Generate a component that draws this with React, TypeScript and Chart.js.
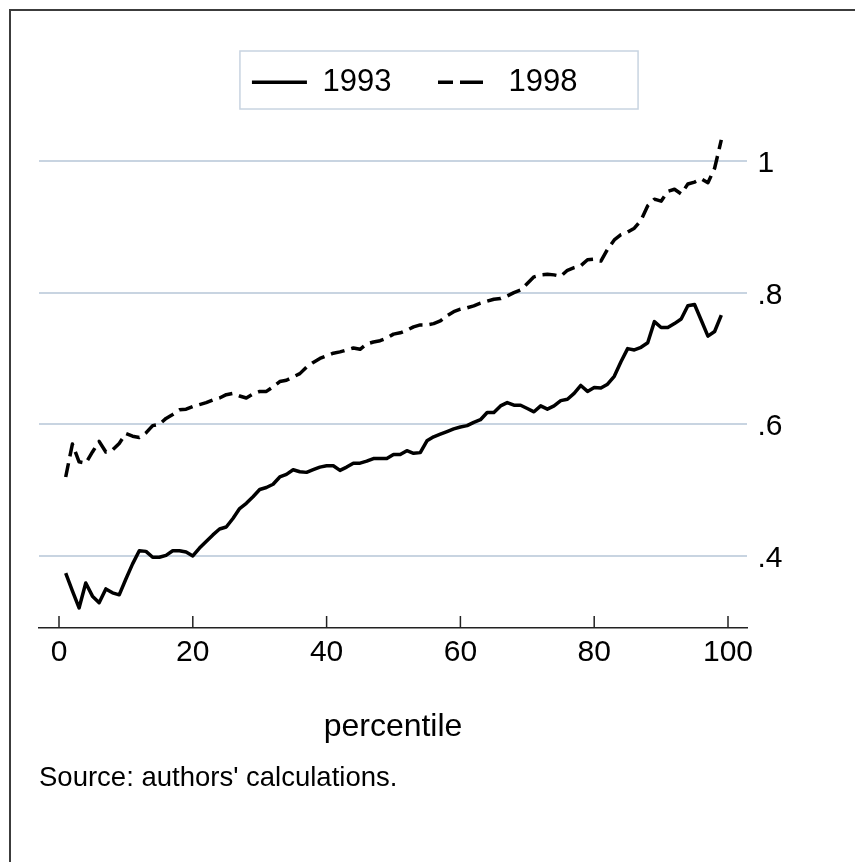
import React, { useEffect, useRef } from "react";
import { Chart, registerables } from "chart.js";

Chart.register(...registerables);

// Percentile of the distribution (x) and the share value at each percentile.
const percentiles = [
  1, 2, 3, 4, 5, 6, 7, 8, 9, 10, 11, 12, 13, 14, 15, 16, 17, 18, 19, 20,
  21, 22, 23, 24, 25, 26, 27, 28, 29, 30, 31, 32, 33, 34, 35, 36, 37, 38, 39, 40,
  41, 42, 43, 44, 45, 46, 47, 48, 49, 50, 51, 52, 53, 54, 55, 56, 57, 58, 59, 60,
  61, 62, 63, 64, 65, 66, 67, 68, 69, 70, 71, 72, 73, 74, 75, 76, 77, 78, 79, 80,
  81, 82, 83, 84, 85, 86, 87, 88, 89, 90, 91, 92, 93, 94, 95, 96, 97, 98, 99,
];

const values1993 = [
  0.374, 0.347, 0.321, 0.359, 0.339, 0.329, 0.350, 0.344, 0.341, 0.365,
  0.388, 0.408, 0.407, 0.398, 0.398, 0.401, 0.408, 0.408, 0.406, 0.400,
  0.412, 0.422, 0.432, 0.441, 0.444, 0.457, 0.472, 0.480, 0.490, 0.501,
  0.504, 0.509, 0.520, 0.524, 0.531, 0.528, 0.527, 0.531, 0.535, 0.537,
  0.537, 0.530, 0.535, 0.541, 0.541, 0.544, 0.548, 0.548, 0.548, 0.554,
  0.554, 0.560, 0.556, 0.557, 0.575, 0.581, 0.585, 0.589, 0.593, 0.596,
  0.598, 0.603, 0.607, 0.618, 0.618, 0.628, 0.633, 0.629, 0.629, 0.624,
  0.619, 0.628, 0.623, 0.628, 0.636, 0.638, 0.647, 0.659, 0.650, 0.656,
  0.655, 0.661, 0.673, 0.695, 0.715, 0.713, 0.717, 0.724, 0.756, 0.747,
  0.747, 0.753, 0.760, 0.780, 0.782, 0.758, 0.734, 0.741, 0.766,
];

const values1998 = [
  0.520, 0.570, 0.543, 0.541, 0.558, 0.574, 0.558, 0.561, 0.571, 0.586,
  0.582, 0.580, 0.587, 0.598, 0.600, 0.609, 0.615, 0.622, 0.623, 0.627,
  0.630, 0.633, 0.637, 0.640, 0.645, 0.647, 0.643, 0.640, 0.646, 0.650,
  0.650, 0.657, 0.665, 0.667, 0.672, 0.677, 0.687, 0.694, 0.700, 0.704,
  0.708, 0.710, 0.713, 0.716, 0.714, 0.722, 0.725, 0.727, 0.731, 0.737,
  0.739, 0.743, 0.748, 0.751, 0.751, 0.753, 0.757, 0.765, 0.771, 0.775,
  0.777, 0.780, 0.784, 0.787, 0.790, 0.791, 0.795, 0.800, 0.804, 0.814,
  0.824, 0.827, 0.828, 0.827, 0.825, 0.834, 0.838, 0.841, 0.850, 0.851,
  0.848, 0.866, 0.880, 0.888, 0.892, 0.898, 0.910, 0.932, 0.942, 0.939,
  0.954, 0.957, 0.950, 0.965, 0.968, 0.973, 0.967, 0.989, 1.032,
];

const seriesLabels = ["1993", "1998"];
const xTickValues = [0, 20, 40, 60, 80, 100];
const yTickValues = [0.4, 0.6, 0.8, 1];
const xAxisTitle = "percentile";
const sourceNote = "Source: authors' calculations.";

const FONT = '"Liberation Sans", Arial, Helvetica, sans-serif';
const GRID_COLOR = "#c8d4e1";
const AXIS_COLOR = "#222222";

const formatShare = (v: number) => (v >= 1 ? String(v) : String(v).replace(/^0/, ""));

// Upward tick marks on the x axis and the framed legend box.
const axisDecor = {
  id: "axisDecor",
  afterDraw(chart: any) {
    const { ctx, chartArea } = chart;
    const xScale = chart.scales.x;
    ctx.save();
    ctx.strokeStyle = AXIS_COLOR;
    ctx.lineWidth = 1.5;
    for (const t of xScale.ticks) {
      const px = xScale.getPixelForValue(t.value);
      ctx.beginPath();
      ctx.moveTo(px, chartArea.bottom);
      ctx.lineTo(px, chartArea.bottom - 12);
      ctx.stroke();
    }
    const legend = chart.legend;
    if (legend && legend.legendHitBoxes && legend.legendHitBoxes.length) {
      const boxes = legend.legendHitBoxes;
      const first = boxes[0];
      const last = boxes[boxes.length - 1];
      const left = first.left - 12;
      const right = last.left + last.width + 60.6;
      ctx.strokeStyle = GRID_COLOR;
      ctx.lineWidth = 1.5;
      ctx.strokeRect(left, first.top - 15.8, right - left, 58);
    }
    ctx.restore();
  },
};

export default function App() {
  const canvasRef = useRef<HTMLCanvasElement | null>(null);

  useEffect(() => {
    const canvas = canvasRef.current;
    if (!canvas) return;
    Chart.defaults.font.family = FONT;
    Chart.defaults.color = "#000";

    const chart = new Chart(canvas, {
      type: "line",
      data: {
        datasets: [
          {
            label: seriesLabels[0],
            data: percentiles.map((p, i) => ({ x: p, y: values1993[i] })),
            borderColor: "#000",
            backgroundColor: "#000",
            borderWidth: 3.5,
            borderJoinStyle: "round",
            pointRadius: 0,
            tension: 0,
          },
          {
            label: seriesLabels[1],
            data: percentiles.map((p, i) => ({ x: p, y: values1998[i] })),
            borderColor: "#000",
            backgroundColor: "#000",
            borderWidth: 3.5,
            borderDash: [14, 7],
            borderJoinStyle: "round",
            pointRadius: 0,
            tension: 0,
          },
        ],
      },
      options: {
        animation: false,
        responsive: false,
        devicePixelRatio: 1,
        layout: { padding: { left: 39, right: 64.6, top: 20.2, bottom: 0 } },
        scales: {
          x: {
            type: "linear",
            min: -2.99,
            max: 102.84,
            afterBuildTicks: (scale: any) => {
              scale.ticks = xTickValues.map((v) => ({ value: v }));
            },
            grid: { display: false, drawTicks: false },
            border: { display: true, color: AXIS_COLOR, width: 1.5 },
            ticks: {
              padding: 6.6,
              font: { size: 30 },
              color: "#000",
              maxRotation: 0,
              autoSkip: false,
              callback: (v: any) => String(v),
            },
            title: {
              display: true,
              text: xAxisTitle,
              font: { size: 32 },
              color: "#000",
              padding: { top: 30.6, bottom: 0 },
            },
          },
          y: {
            type: "linear",
            position: "right",
            min: 0.2906,
            max: 1.0808,
            afterBuildTicks: (scale: any) => {
              scale.ticks = yTickValues.map((v) => ({ value: v }));
            },
            afterFit: (scale: any) => {
              scale.width = 43.4;
            },
            grid: { color: GRID_COLOR, lineWidth: 2, drawTicks: false },
            border: { display: false },
            ticks: {
              padding: 10.5,
              labelOffset: 2.6,
              font: { size: 30 },
              color: "#000",
              autoSkip: false,
              callback: (v: any) => formatShare(Number(v)),
            },
          },
        },
        plugins: {
          legend: {
            display: true,
            position: "top",
            align: "center",
            labels: {
              usePointStyle: true,
              pointStyle: "line",
              pointStyleWidth: 55,
              padding: 46.6,
              color: "#000",
              font: { size: 31 },
              generateLabels: (ch: any) => {
                const items = Chart.defaults.plugins.legend.labels.generateLabels(ch);
                return items.map((item: any, i: number) => ({
                  ...item,
                  pointStyle: "line",
                  lineWidth: 3.5,
                  lineDash: i === 1 ? [15, 7, 23, 40] : [],
                }));
              },
            },
          },
          title: {
            display: true,
            position: "bottom",
            align: "start",
            text: sourceNote,
            color: "#000",
            font: { size: 27.5, weight: "normal" },
            padding: { top: 15.6, bottom: 67.2 },
          },
          tooltip: { enabled: false },
        },
      },
      plugins: [axisDecor],
    } as any);

    return () => chart.destroy();
  }, []);

  return (
    <div
      style={{
        position: "absolute",
        left: 0,
        top: 0,
        width: 855,
        height: 862,
        background: "#fff",
        overflow: "hidden",
      }}
    >
      <canvas
        ref={canvasRef}
        width={855}
        height={862}
        style={{ display: "block", width: 855, height: 862 }}
      />
      <div
        style={{
          position: "absolute",
          left: 9,
          top: 9,
          width: 846,
          height: 853,
          boxSizing: "border-box",
          borderLeft: "2px solid #3c3c3c",
          borderTop: "2px solid #3c3c3c",
          pointerEvents: "none",
        }}
      />
    </div>
  );
}
